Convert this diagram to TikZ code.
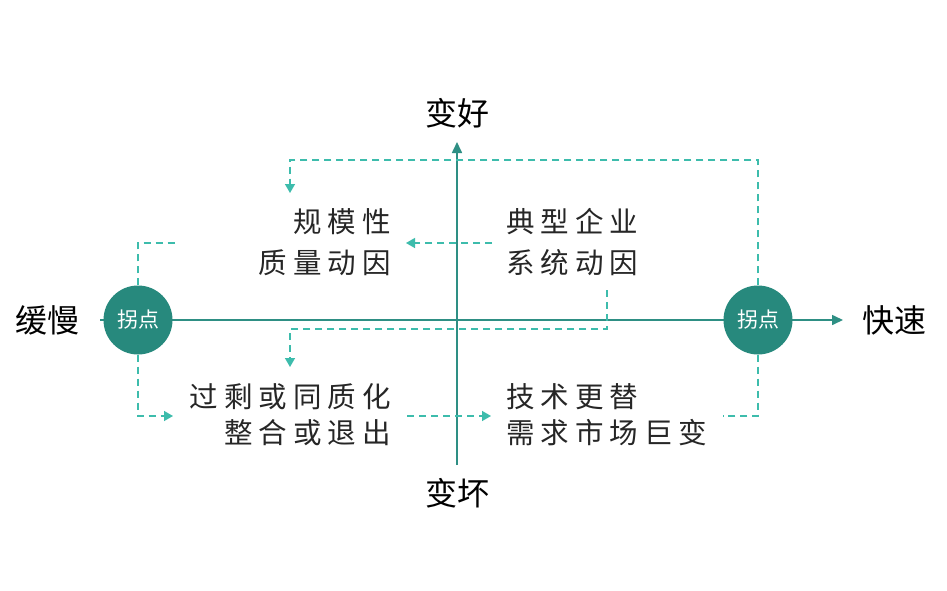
\documentclass[tikz,border=0pt]{standalone}
\usepackage{fontspec}
\setmainfont{Noto Sans CJK SC}
\newfontfamily\cjkbody[LetterSpace=21]{Noto Sans CJK SC}
\usetikzlibrary{arrows.meta}
\definecolor{axisc}{HTML}{2E8F84}
\definecolor{circc}{HTML}{27897D}
\definecolor{dashc}{HTML}{3DBCAC}
\tikzset{
  axisline/.style={draw=axisc, line width=1.6pt},
  pivot/.style={circle, fill=circc, minimum size=69pt, inner sep=0pt, text=white, font=\fontsize{21}{21}\selectfont},
  dline/.style={draw=dashc, line width=1.4pt, dash pattern=on 7pt off 5pt},
  darrow/.style={dline, -{Triangle[length=9pt,width=10pt]}},
  axlabel/.style={font=\fontsize{32}{32}\selectfont, text=black, inner sep=0pt},
  bodytext/.style={font=\cjkbody\fontsize{28.5}{28.5}\selectfont, text=black!85, inner sep=0pt},
}
\begin{document}
\begin{tikzpicture}[x=1pt,y=-1pt]
\useasboundingbox[fill=white] (0,0) rectangle (947,591);
% axes
\coordinate (hl) at (100,320);
\coordinate (hr) at (843,320);
\coordinate (vb) at (457,465);
\coordinate (vt) at (457,142);
\draw[axisline, -{Triangle[length=11pt,width=10pt]}] (hl) -- (hr);
\draw[axisline, -{Triangle[length=11pt,width=10pt]}] (vb) -- (vt);
% labels
\node[axlabel] (good) at (457,113) {变好};
\node[axlabel] (bad) at (457,493) {变坏};
\node[axlabel] (slow) at (47,320) {缓慢};
\node[axlabel] (fast) at (894,320) {快速};
% pivots
\node[pivot] (pl) at (138,320) {拐点};
\node[pivot] (pr) at (758,320) {拐点};
% texts
\node[bodytext, anchor=east] (t1a) at (391,222) {规模性};
\node[bodytext, anchor=east] (t1b) at (391,263) {质量动因};
\node[bodytext, anchor=west] (t2a) at (506,222) {典型企业};
\node[bodytext, anchor=west] (t2b) at (506,263) {系统动因};
\node[bodytext, anchor=east] (t3a) at (391,397) {过剩或同质化};
\node[bodytext, anchor=east] (t3b) at (391,433) {整合或退出};
\node[bodytext, anchor=west] (t4a) at (506,397) {技术更替};
\node[bodytext, anchor=west] (t4b) at (506,433) {需求市场巨变};
% dashed connectors
\coordinate (a1) at (290,193);
\draw[darrow] (pr.north) -- (758,160) -- (290,160) -- (a1);
\coordinate (b0) at (492,243);
\coordinate (b1) at (406,243);
\draw[darrow] (b0) -- (b1);
\coordinate (c1) at (176,243);
\draw[dline] (pl.north) -- (138,243) -- (c1);
\coordinate (d0) at (607,290);
\coordinate (d1) at (290,367);
\draw[darrow] (d0) -- (607,329) -- (290,329) -- (d1);
\coordinate (e1) at (173,416);
\draw[darrow] (pl.south) -- (138,416) -- (e1);
\coordinate (f0) at (407,416);
\coordinate (f1) at (491,416);
\draw[darrow] (f0) -- (f1);
\coordinate (g1) at (723,416);
\draw[dline] (pr.south) -- (758,416) -- (g1);
\end{tikzpicture}
\end{document}
